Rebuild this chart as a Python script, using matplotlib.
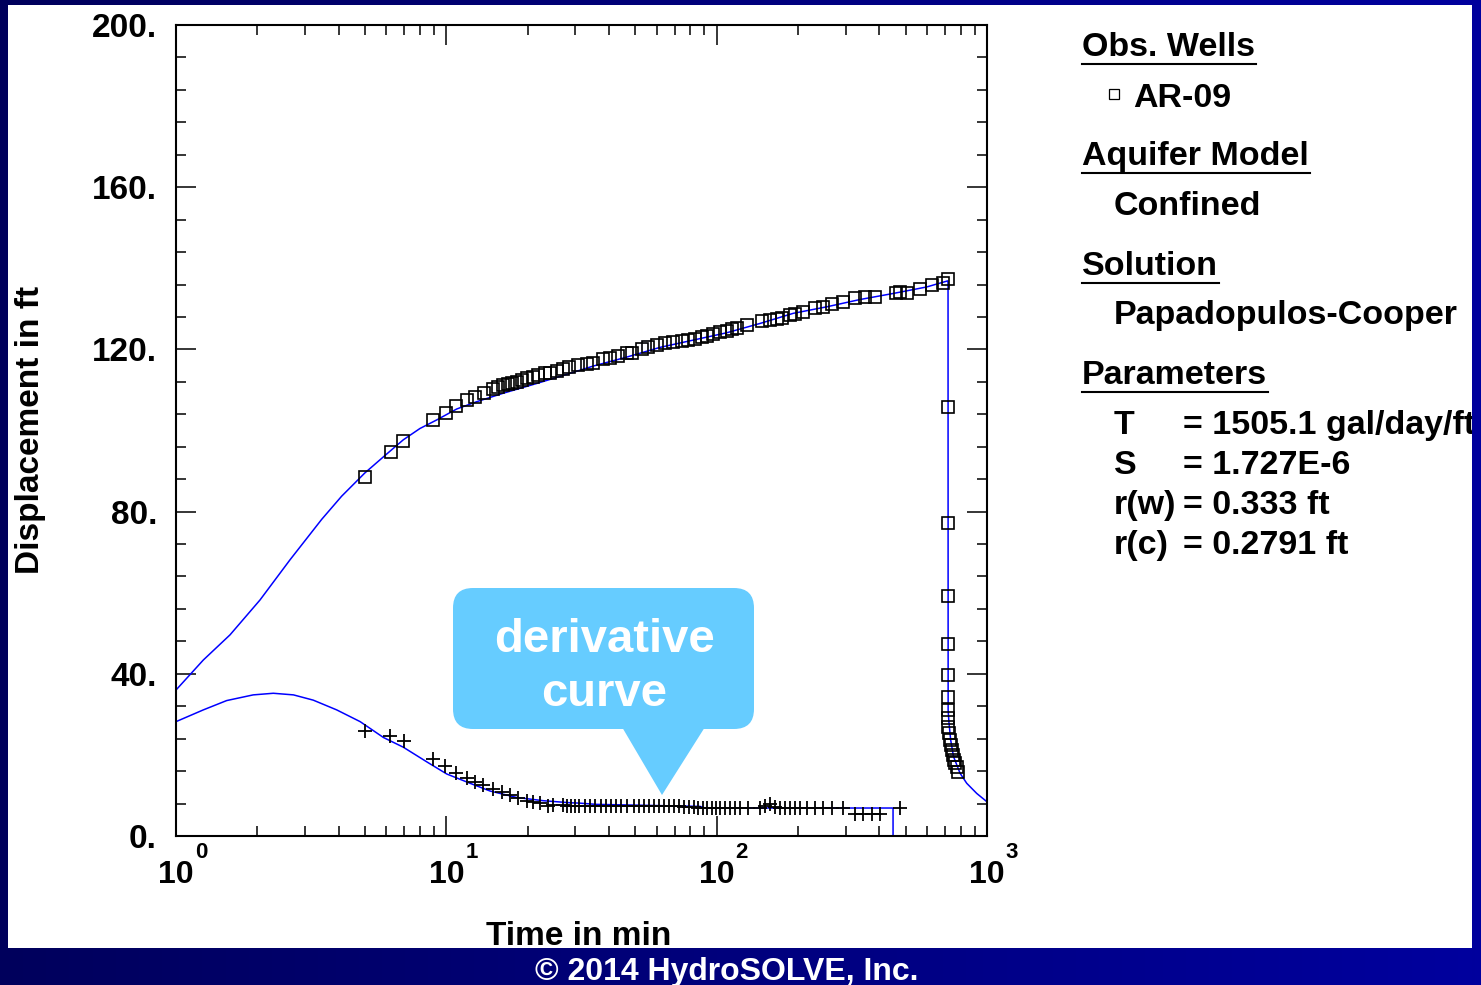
import numpy as np
import matplotlib
matplotlib.use("Agg")
import matplotlib.pyplot as plt
from matplotlib.patches import Rectangle, FancyBboxPatch, Polygon
from matplotlib.lines import Line2D
from matplotlib.colors import LinearSegmentedColormap
from matplotlib.ticker import FixedLocator, LogLocator, NullFormatter, FuncFormatter

plt.rcParams['font.family'] = ['Liberation Sans', 'DejaVu Sans']
plt.rcParams['font.weight'] = 'bold'

# ---------------- observed data (AR-09) ----------------
obs_time = [4.99, 6.24, 6.93, 8.95, 9.97, 10.86, 11.90, 12.80, 13.82, 14.85,
            15.57, 16.25, 16.87, 17.45, 18.21, 19.00, 19.83, 20.87, 21.78, 23.17,
            24.18, 25.60, 26.95, 28.50, 30.77, 33.06, 34.98, 38.08, 40.32, 43.27,
            46.47, 48.50, 52.81, 55.85, 60.00, 64.42, 69.14, 74.26, 78.54, 83.18,
            88.05, 91.88, 97.18, 102.9, 108.9, 113.6, 118.6, 129.1, 146.8, 157.5,
            166.8, 174.0, 186.7, 194.9, 208.1, 231.1, 248.0, 266.5, 294.1, 324.9,
            353.9, 385.3, 460.8, 476.7, 507.3, 565.2, 624.5, 685.9, 715.5,
            717.6, 717.7, 717.8, 718.0, 718.2, 718.3, 718.4, 718.5, 718.6,
            725.4, 729.8, 733.9, 740.4, 746.7, 755.1, 763.5, 772.7, 783.3]
obs_disp = [88.6, 94.7, 97.4, 102.6, 104.2, 106.0, 107.4, 108.3, 109.2, 110.2,
            110.7, 111.2, 111.5, 111.7, 112.0, 112.5, 112.9, 113.3, 113.7, 114.1,
            114.1, 114.7, 115.1, 115.6, 116.2, 116.4, 116.6, 117.6, 118.0, 118.4,
            119.0, 119.2, 120.2, 120.7, 121.0, 121.5, 121.9, 122.1, 122.3, 122.6,
            123.1, 123.4, 123.8, 124.4, 124.6, 125.0, 125.4, 126.0, 127.0, 127.3,
            127.4, 127.8, 128.5, 128.7, 129.1, 130.1, 130.5, 131.1, 131.8, 132.6,
            133.0, 133.0, 134.0, 134.2, 133.8, 134.8, 135.8, 136.3, 137.4,
            105.7, 77.2, 59.2, 47.3, 39.6, 34.3, 31.1, 29.0, 27.0,
            25.3, 23.7, 22.4, 21.2, 20.0, 18.7, 17.9, 17.1, 15.9]

# observed derivative
deriv_time = [4.99, 6.19, 6.99, 8.95, 9.91, 10.86, 11.90, 12.77, 13.70, 14.85,
              16.03, 17.20, 18.46, 19.83, 20.97, 22.21, 23.84, 24.87, 26.95, 27.88,
              28.85, 29.85, 31.04, 32.58, 34.00, 35.57, 37.24, 38.96, 40.55, 42.42,
              44.39, 46.47, 49.46, 51.74, 53.85, 56.34, 58.65, 61.36, 63.87, 66.82,
              69.55, 72.76, 75.74, 79.21, 82.45, 85.53, 89.25, 92.35, 95.87, 99.45,
              102.9, 107.4, 112.0, 116.9, 122.0, 130.9, 144.7, 151.0, 157.5, 164.4,
              171.5, 178.9, 186.7, 194.9, 203.4, 215.3, 231.1, 248.0, 266.5, 294.1,
              324.9, 348.7, 374.6, 402.0, 476.7]
deriv_disp = [25.9, 24.7, 23.4, 19.0, 17.3, 15.6, 14.2, 13.2, 12.6, 11.6,
              10.8, 10.1, 9.3, 8.6, 8.3, 8.1, 7.4, 7.6, 7.6, 7.5,
              7.5, 7.4, 7.4, 7.4, 7.4, 7.4, 7.4, 7.4, 7.4, 7.4,
              7.4, 7.4, 7.3, 7.3, 7.3, 7.3, 7.3, 7.3, 7.3, 7.3,
              7.3, 7.3, 7.2, 7.2, 7.2, 6.9, 7.0, 7.0, 7.0, 7.0,
              7.0, 7.0, 7.0, 7.0, 7.0, 7.0, 7.0, 7.3, 7.8, 7.2,
              7.0, 7.0, 7.0, 7.0, 7.0, 7.0, 6.8, 6.8, 6.8, 6.8,
              5.5, 5.5, 5.5, 5.5, 6.9]

# ---------------- Papadopulos-Cooper type curves ----------------
fit_time = [1.0, 1.262, 1.584, 2.045, 2.64, 3.46, 4.10, 4.99, 5.85, 6.93,
            7.99, 9.21, 10.92, 12.95, 16.25, 21.60, 28.68, 34.98, 46.47, 61.72,
            81.97, 108.9, 144.7, 192.1, 255.3, 339.0, 450.3, 598.4, 715.5,
            717.6, 718.2, 723.6, 733.9, 751.7, 794.6, 841.4, 916.2, 997.0, 1100.0]
fit_disp = [36.0, 43.4, 49.6, 58.2, 68.1, 78.1, 83.8, 89.5, 93.5, 97.7,
            100.5, 102.6, 105.3, 107.1, 109.2, 111.6, 114.1, 115.9, 118.1, 120.5,
            122.3, 124.1, 126.4, 128.9, 130.5, 132.3, 133.8, 135.4, 136.9,
            136.5, 31.0, 27.8, 23.7, 19.6, 15.5, 13.0, 10.5, 8.5, 7.3]

dfit_time = [1.0, 1.262, 1.54, 1.93, 2.29, 2.72, 3.22, 3.93, 4.80, 5.85,
             6.93, 8.46, 10.03, 12.24, 14.50, 18.21, 22.85, 28.68, 31.2, 35.9,
             86.8, 90.6, 449.2, 449.3]
dfit_disp = [28.2, 31.1, 33.4, 34.8, 35.2, 34.8, 33.5, 31.1, 28.2, 24.3,
             21.9, 18.3, 15.3, 13.0, 11.1, 9.5, 8.7, 8.2, 8.1, 7.8,
             7.3, 6.9, 6.9, -3.0]

y_major = [0, 40, 80, 120, 160, 200]
x_decades = [0, 1, 2, 3]

legend_rows = [
    ("Obs. Wells", "header"),
    ("AR-09", "well"),
    ("Aquifer Model", "header"),
    ("Confined", "item"),
    ("Solution", "header"),
    ("Papadopulos-Cooper", "item"),
    ("Parameters", "header"),
]
param_names = ["T", "S", "r(w)", "r(c)"]
param_values = ["= 1505.1 gal/day/ft", "= 1.727E-6", "= 0.333 ft", "= 0.2791 ft"]

# ---------------- figure ----------------
W, H = 1481, 985
fig = plt.figure(figsize=(W / 100, H / 100), dpi=100)
PT = 0.72  # points per pixel at 100 dpi
LEG_FS = 24.5

# background: navy gradient frame with white panel
bg = fig.add_axes([0, 0, 1, 1], zorder=-10)
bg.set_xlim(0, W)
bg.set_ylim(H, 0)
bg.axis('off')
grad = np.linspace(0, 1, 256)[None, :]
navy = LinearSegmentedColormap.from_list('navy', ['#00005c', '#00009e'])
bg.imshow(grad, cmap=navy, extent=[0, W, H, 0], aspect='auto')
bg.add_patch(Rectangle((8, 5), 1472 - 8, 948 - 5, facecolor='white', edgecolor='none'))

# main plot
ax_l, ax_r, ax_t, ax_b = 176, 987, 25, 836
ax = fig.add_axes([ax_l / W, 1 - ax_b / H, (ax_r - ax_l) / W, (ax_b - ax_t) / H])
ax.set_xscale('log')
ax.set_xlim(1, 1000)
ax.set_ylim(0, 200)

ax.plot(fit_time, fit_disp, color='#0000ff', lw=1.1, zorder=2)
ax.plot(dfit_time, dfit_disp, color='#0000ff', lw=1.1, zorder=2)
ax.plot(obs_time, obs_disp, linestyle='none', marker='s', markersize=8.0,
        markerfacecolor='none', markeredgecolor='black', markeredgewidth=1.2, zorder=3)
ax.plot(deriv_time, deriv_disp, linestyle='none', marker='+', markersize=10.0,
        markeredgecolor='black', markeredgewidth=1.3, zorder=3)

for s in ax.spines.values():
    s.set_linewidth(1.5)
ax.yaxis.set_major_locator(FixedLocator(y_major))
ax.yaxis.set_minor_locator(FixedLocator(np.arange(0, 201, 8)))
ax.yaxis.set_major_formatter(FuncFormatter(lambda v, p: f"{v:.0f}."))
ax.xaxis.set_major_locator(LogLocator(base=10, numticks=10))
ax.xaxis.set_minor_locator(LogLocator(base=10, subs=np.arange(2, 10), numticks=20))
ax.xaxis.set_major_formatter(NullFormatter())
ax.xaxis.set_minor_formatter(NullFormatter())
ax.tick_params(which='both', direction='in', top=True, right=True, width=1.1, color='black')
ax.tick_params(which='major', length=20 * PT)
ax.tick_params(which='minor', length=10 * PT)
ax.tick_params(axis='y', which='major', labelsize=24, pad=19 * PT)

for d in x_decades:
    ax.annotate("10", xy=(10.0 ** d, 0), xycoords=('data', 'axes fraction'),
                xytext=(0, -39 * PT), textcoords='offset points',
                ha='center', va='center', fontsize=23, fontweight='bold')
    ax.annotate(str(d), xy=(10.0 ** d, 0), xycoords=('data', 'axes fraction'),
                xytext=(25 * PT, -16 * PT), textcoords='offset points',
                ha='center', va='center', fontsize=16, fontweight='bold')

# overlay: labels, legend, callout, footer
ov = fig.add_axes([0, 0, 1, 1], zorder=5)
ov.set_xlim(0, W)
ov.set_ylim(H, 0)
ov.axis('off')
ov.patch.set_alpha(0)

ov.text(31, 430, "Displacement in ft", rotation=90, ha='center', va='center', fontsize=24)
ov.text(579, 945, "Time in min", ha='center', va='baseline', fontsize=24)

# callout box
callout_color = '#66ccff'
ov.add_patch(FancyBboxPatch((453, 588), 301, 141,
                            boxstyle="round,pad=0,rounding_size=20",
                            facecolor=callout_color, edgecolor='none'))
ov.add_patch(Polygon([(622, 727), (705, 727), (662, 795)], closed=True,
                     facecolor=callout_color, edgecolor='none'))
ov.text(604, 652, "derivative", color='white', ha='center', va='baseline', fontsize=34)
ov.text(604, 706, "curve", color='white', ha='center', va='baseline', fontsize=34)

# legend panel
fig.canvas.draw()
renderer = fig.canvas.get_renderer()
header_y = {"Obs. Wells": 56, "Aquifer Model": 165, "Solution": 275, "Parameters": 384}
item_y = {"AR-09": 107, "Confined": 215, "Papadopulos-Cooper": 324}
for label, kind in legend_rows:
    if kind == "header":
        y = header_y[label]
        t = ov.text(1082, y, label, ha='left', va='baseline', fontsize=LEG_FS)
        bb = t.get_window_extent(renderer)
        ov.add_line(Line2D([1082, 1082 + bb.width + 1], [y + 8, y + 8], color='black', lw=1.5))
    elif kind == "well":
        y = item_y[label]
        ov.plot([1114], [y - 13], marker='s', markersize=6.5, markerfacecolor='none',
                markeredgecolor='black', markeredgewidth=0.9)
        ov.text(1133, y, label, ha='left', va='baseline', fontsize=LEG_FS)
    else:
        ov.text(1114, item_y[label], label, ha='left', va='baseline', fontsize=LEG_FS)

param_y = [434, 474, 514, 554]
for name, val, y in zip(param_names, param_values, param_y):
    ov.text(1114, y, name, ha='left', va='baseline', fontsize=LEG_FS)
    ov.text(1183, y, val, ha='left', va='baseline', fontsize=LEG_FS)

# right frame strip drawn over the parameter text
ov.imshow(grad[:, -6:], cmap=navy, vmin=0, vmax=1, extent=[1472, W, H, 0], aspect='auto', zorder=10)
ov.set_xlim(0, W)
ov.set_ylim(H, 0)

ov.text(727, 980, "\u00a9 2014 HydroSOLVE, Inc.", color='white', ha='center', va='baseline',
        fontsize=23, zorder=11)

fig.savefig("out.png", dpi=100)
